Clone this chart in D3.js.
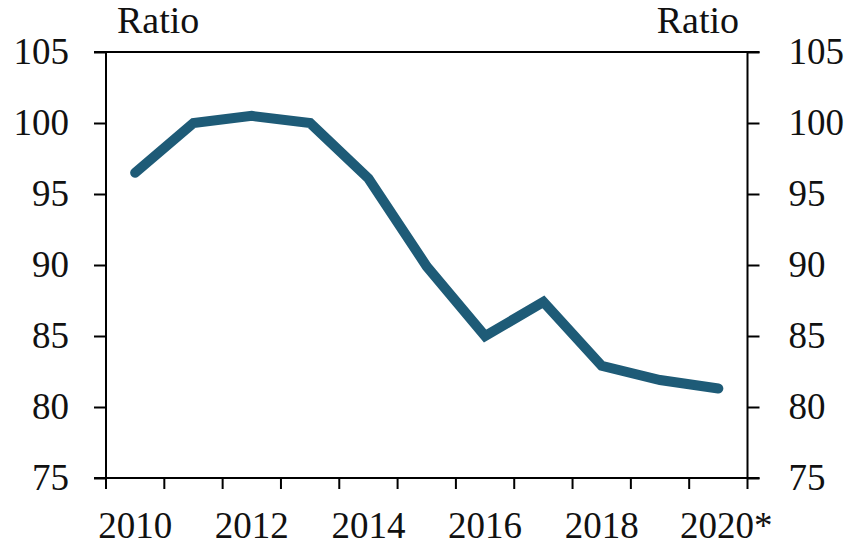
<!DOCTYPE html>
<html>
<head>
<meta charset="utf-8">
<script src="https://cdn.jsdelivr.net/npm/d3@7"></script>
<style>
  body { margin: 0; background: #fff; }
</style>
</head>
<body>
<svg id="chart" width="866" height="547"></svg>
<script>
    "use strict";
    // values
    var years = ["2010", "2011", "2012", "2013", "2014", "2015", "2016", "2017", "2018", "2019", "2020"],
        ratio = [96.5, 100, 100.5, 100, 96.1, 89.9, 85.0, 87.4, 82.9, 81.9, 81.3],
        yTicks = [75, 80, 85, 90, 95, 100, 105],
        xLabels = {"2010": "2010", "2012": "2012", "2014": "2014", "2016": "2016", "2018": "2018", "2020": "2020*"};

    var svg = d3.select("#chart"),
        plotLeft = 106, plotRight = 747.5, plotTop = 52, plotBottom = 478,
        tickLen = 12, fontSize = 37,
        serif = "'Liberation Serif'";

    var x = d3.scaleBand().domain(years).range([plotLeft, plotRight]),
        y = d3.scaleLinear().domain([75, 105]).range([plotBottom, plotTop]);

    // top border with outward ticks both sides
    svg.append("line")
        .attr("x1", plotLeft - tickLen).attr("x2", plotRight + tickLen)
        .attr("y1", y(105)).attr("y2", y(105))
        .attr("stroke", "#000").attr("stroke-width", 2);

    function styleAxis(g) {
        g.attr("font-family", null).attr("font-size", null);
        g.select(".domain").remove();
        g.selectAll(".tick line").attr("stroke", "#000").attr("stroke-width", 2);
        g.selectAll(".tick text")
            .style("font-family", serif)
            .style("font-size", fontSize + "px")
            .attr("fill", "#111");
    }

    var yLeft = svg.append("g")
        .attr("transform", "translate(" + plotLeft + ",0)")
        .call(d3.axisLeft(y).tickValues(yTicks).tickSize(tickLen).tickPadding(25).tickSizeOuter(0));
    styleAxis(yLeft);

    var yRight = svg.append("g")
        .attr("transform", "translate(" + plotRight + ",0)")
        .call(d3.axisRight(y).tickValues(yTicks).tickSize(tickLen).tickPadding(29).tickSizeOuter(0));
    styleAxis(yRight);

    // vertical axis lines
    [plotLeft, plotRight].forEach(function (px) {
        svg.append("line")
            .attr("x1", px).attr("x2", px)
            .attr("y1", plotTop).attr("y2", plotBottom)
            .attr("stroke", "#000").attr("stroke-width", 2);
    });

    // bottom axis: ticks at band edges, labels at band centres of even years
    var edges = years.map(function (d) { return x(d); }).concat([plotRight]);
    svg.append("line")
        .attr("x1", plotLeft - tickLen).attr("x2", plotRight + tickLen)
        .attr("y1", plotBottom).attr("y2", plotBottom)
        .attr("stroke", "#000").attr("stroke-width", 2);
    svg.selectAll("line.xtick").data(edges).enter().append("line")
        .attr("class", "xtick")
        .attr("x1", function (d) { return d; }).attr("x2", function (d) { return d; })
        .attr("y1", plotBottom).attr("y2", plotBottom + 11)
        .attr("stroke", "#000").attr("stroke-width", 2);
    svg.selectAll("text.xlab").data(years.filter(function (d) { return xLabels[d]; })).enter().append("text")
        .attr("class", "xlab")
        .attr("x", function (d) { return x(d) + x.bandwidth() / 2 + (d === "2020" ? 8 : 0); })
        .attr("y", 538)
        .attr("text-anchor", "middle")
        .attr("fill", "#111")
        .style("font-family", serif)
        .style("font-size", fontSize + "px")
        .text(function (d) { return xLabels[d]; });

    // unit labels
    svg.append("text").attr("x", 117).attr("y", 33)
        .attr("fill", "#111").style("font-family", serif).style("font-size", "38px").text("Ratio");
    svg.append("text").attr("x", 739).attr("y", 33).attr("text-anchor", "end")
        .attr("fill", "#111").style("font-family", serif).style("font-size", "38px").text("Ratio");

    // the line
    var line = d3.line()
        .x(function (d, i) { return x(years[i]) + x.bandwidth() / 2; })
        .y(function (d) { return y(d); });
    svg.append("path")
        .datum(ratio)
        .attr("d", line)
        .attr("fill", "none")
        .attr("stroke", "#1e5b77")
        .attr("stroke-width", 10)
        .attr("stroke-linecap", "round")
        .attr("stroke-linejoin", "miter");
</script>
</body>
</html>
